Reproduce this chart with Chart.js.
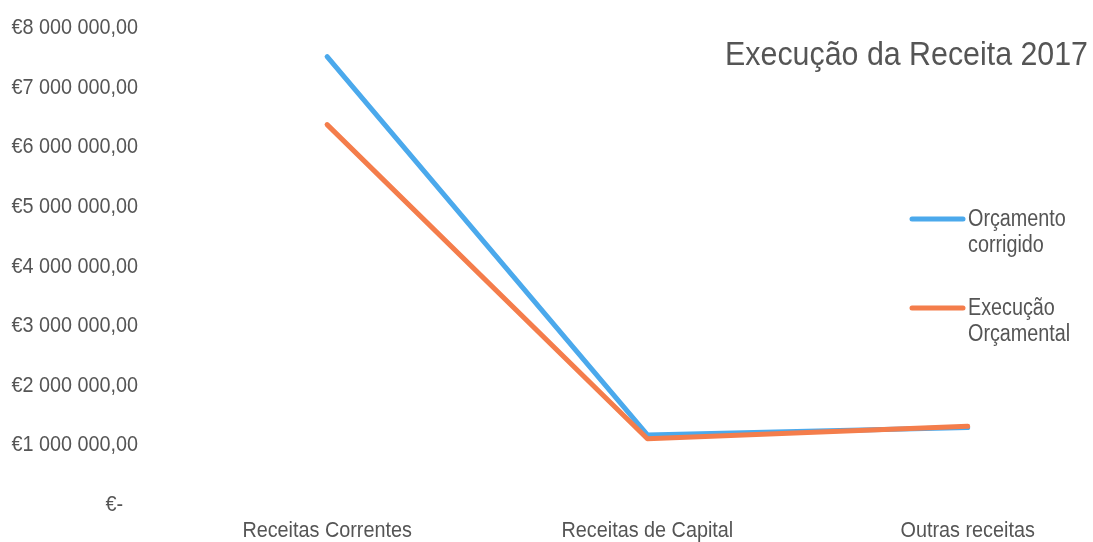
<!DOCTYPE html>
<html>
<head>
<meta charset="utf-8">
<script src="https://cdn.jsdelivr.net/npm/chart.js@4.4.1/dist/chart.umd.min.js"></script>
<style>
  html, body { margin: 0; padding: 0; background: #ffffff; }
  #wrap { width: 1093px; height: 542px; position: relative; }
</style>
</head>
<body>
<div id="wrap"><canvas id="chart" width="1093" height="542"></canvas></div>
<script>
// Revenue categories and the two series (euros)
const categories = ['Receitas Correntes', 'Receitas de Capital', 'Outras receitas'];
const orcamentoCorrigido = [7520000, 1175000, 1300000];
const execucaoOrcamental = [6380000, 1110000, 1320000];
const yTicks = [0, 1000000, 2000000, 3000000, 4000000, 5000000, 6000000, 7000000, 8000000];
const chartTitle = 'Execução da Receita 2017';
const seriesNames = [['Orçamento', 'corrigido'], ['Execução', 'Orçamental']];

const BLUE = '#4ba9ec';
const ORANGE = '#f47d4b';
const TEXT = '#555555';
const FONT = '"Liberation Sans", Arial, sans-serif';

function euro(v) {
  if (v === 0) return '€-  \u2009';
  const s = Math.round(v).toString().replace(/\B(?=(\d{3})+(?!\d))/g, ' ');
  return '€' + s + ',00';
}

// Draw text squeezed horizontally around its anchor point (narrow type look)
function condensedText(ctx, text, x, y, sx, fill) {
  ctx.save();
  ctx.translate(x, y);
  ctx.scale(sx, 1);
  fill.call(ctx, text, 0, 0);
  ctx.restore();
}

const axisSqueeze = { x: 0.9, y: 0.9 };

// Wrap each axis' label drawing so its labels come out condensed
const condensedAxes = {
  id: 'condensedAxes',
  beforeDraw(chart) {
    Object.values(chart.scales).forEach(scale => {
      if (scale._condensed) return;
      const sx = axisSqueeze[scale.id] || 1;
      const orig = scale.drawLabels.bind(scale);
      scale.drawLabels = function (area) {
        const ctx = this.ctx;
        const fill = ctx.fillText;
        ctx.fillText = function (t, x, y) { condensedText(this, t, x, y, sx, fill); };
        try { orig(area); } finally { ctx.fillText = fill; }
      };
      scale._condensed = true;
    });
  }
};

// Title and two-line legend drawn inside the plot area, on the right
const overlay = {
  id: 'overlay',
  afterDraw(chart) {
    const ctx = chart.ctx;
    const fill = ctx.fillText;
    ctx.save();
    ctx.fillStyle = TEXT;
    ctx.font = '33px ' + FONT;
    ctx.textAlign = 'right';
    ctx.textBaseline = 'alphabetic';
    condensedText(ctx, chartTitle, 1088, 65, 0.92, fill);

    const colors = [BLUE, ORANGE];
    const rows = [219, 308];
    ctx.font = '23px ' + FONT;
    ctx.textAlign = 'left';
    ctx.textBaseline = 'middle';
    for (let i = 0; i < 2; i++) {
      ctx.strokeStyle = colors[i];
      ctx.lineWidth = 5;
      ctx.lineCap = 'round';
      ctx.beginPath();
      ctx.moveTo(912, rows[i]);
      ctx.lineTo(963, rows[i]);
      ctx.stroke();
      ctx.fillStyle = TEXT;
      condensedText(ctx, seriesNames[i][0], 968, rows[i] + 1, 0.86, fill);
      condensedText(ctx, seriesNames[i][1], 968, rows[i] + 27, 0.86, fill);
    }
    ctx.restore();
  }
};

const toPoints = arr => arr.map((v, i) => ({ x: i, y: v }));

new Chart(document.getElementById('chart'), {
  type: 'line',
  data: {
    datasets: [
      {
        label: seriesNames[0].join(' '),
        data: toPoints(orcamentoCorrigido),
        borderColor: BLUE,
        backgroundColor: BLUE,
        borderWidth: 5,
        pointRadius: 0,
        borderCapStyle: 'round',
        borderJoinStyle: 'round',
        order: 1
      },
      {
        label: seriesNames[1].join(' '),
        data: toPoints(execucaoOrcamental),
        borderColor: ORANGE,
        backgroundColor: ORANGE,
        borderWidth: 5,
        pointRadius: 0,
        borderCapStyle: 'round',
        borderJoinStyle: 'round',
        order: 0
      }
    ]
  },
  options: {
    responsive: false,
    animation: false,
    layout: { padding: { top: 28, right: 10, left: 0, bottom: 0 } },
    plugins: { legend: { display: false }, tooltip: { enabled: false } },
    scales: {
      x: {
        type: 'linear',
        min: -0.553,
        max: 2.36,
        grid: { display: false },
        border: { display: false },
        afterBuildTicks(scale) { scale.ticks = categories.map((_, i) => ({ value: i })); },
        afterFit(scale) { scale.height = 37; },
        ticks: {
          autoSkip: false,
          maxRotation: 0,
          padding: 5,
          color: TEXT,
          font: { family: FONT, size: 22 },
          callback: v => categories[v]
        }
      },
      y: {
        min: 0,
        max: 8000000,
        grid: { display: false },
        border: { display: false },
        afterBuildTicks(scale) { scale.ticks = yTicks.map(v => ({ value: v })); },
        afterFit(scale) { scale.width = 150; },
        ticks: {
          padding: 4,
          color: TEXT,
          font: { family: FONT, size: 22 },
          callback: v => euro(v)
        }
      }
    }
  },
  plugins: [condensedAxes, overlay]
});
</script>
</body>
</html>
